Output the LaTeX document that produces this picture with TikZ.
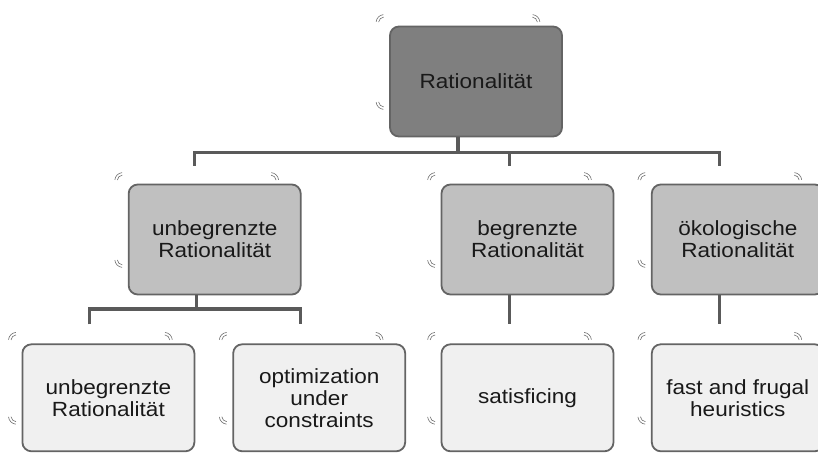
\documentclass[tikz,border=0pt]{standalone}
\usepackage{fontspec}
\setmainfont{Liberation Sans}[FakeStretch=1.1]
\usetikzlibrary{positioning}
\definecolor{topfill}{RGB}{127,127,127}
\definecolor{midfill}{RGB}{192,192,192}
\definecolor{lowfill}{RGB}{240,240,240}
\definecolor{edgegray}{RGB}{100,100,100}
\definecolor{linkgray}{RGB}{90,90,90}
\definecolor{markgray}{RGB}{110,110,110}

\begin{document}
\begin{tikzpicture}[
  x=1pt, y=1pt,
  box/.style={draw=edgegray, line width=1.8pt, rounded corners=9pt,
    minimum width=172pt, minimum height=110pt, align=center,
    font=\fontsize{20.5}{22}\selectfont, text=black!90},
  toplevel/.style={box, fill=topfill},
  midlevel/.style={box, fill=midfill},
  lowlevel/.style={box, fill=lowfill, minimum height=107pt},
  link/.style={draw=linkgray, line width=3.2pt},
  deco/.style={draw=markgray, line width=0.6pt}
]
\useasboundingbox (0,0) rectangle (818,453);

% boxes
\node[toplevel] (rat) at (476,371.5) {Rationalität};
\node[midlevel] (beg) at (527.5,213.5) {begrenzte\\Rationalität};
\node[midlevel, left=139pt of beg] (unb) {unbegrenzte\\Rationalität};
\node[midlevel, right=36.5pt of beg] (oek) {ökologische\\Rationalität};
\node[lowlevel, below=48pt of beg] (sat) {satisficing};
\node[lowlevel, below=48pt of oek] (ffh) {fast and frugal\\heuristics};
\node[lowlevel, left=34.5pt of sat] (opt) {optimization\\under\\constraints};
\node[lowlevel, left=37pt of opt] (unbb) {unbegrenzte\\Rationalität};

% connectors
\draw[link] ([xshift=-18pt]rat.south) -- ++(0,-15.5) coordinate (hub);
\draw[link] ([xshift=-20pt,yshift=18pt]unb.north) |- (hub) -| ([xshift=-18pt,yshift=18pt]oek.north);
\draw[link] ([xshift=-18pt,yshift=18pt]beg.north) |- (hub);
\draw[link] ([xshift=-18pt]unb.south) -- ++(0,-13.5) coordinate (fork);
\draw[link] ([xshift=-19pt,yshift=19pt]unbb.north) |- (fork) -| ([xshift=-19pt,yshift=19pt]opt.north);
\draw[link] ([xshift=-18pt]beg.south) -- ([xshift=-18pt,yshift=19pt]sat.north);
\draw[link] ([xshift=-18pt]oek.south) -- ([xshift=-18pt,yshift=19pt]ffh.north);

% corner marks
\foreach \n in {rat,unb,beg,oek,unbb,opt,sat,ffh}{
  \foreach \r in {5.5,8}{
    \draw[deco] ([shift={(-5,3)}]\n.north west) ++(95:\r) arc[start angle=95, end angle=175, radius=\r];
    \draw[deco] ([shift={(-31,3)}]\n.north east) ++(5:\r) arc[start angle=5, end angle=85, radius=\r];
    \draw[deco] ([shift={(-5,36)}]\n.south west) ++(185:\r) arc[start angle=185, end angle=265, radius=\r];
  }
}
\end{tikzpicture}
\end{document}
